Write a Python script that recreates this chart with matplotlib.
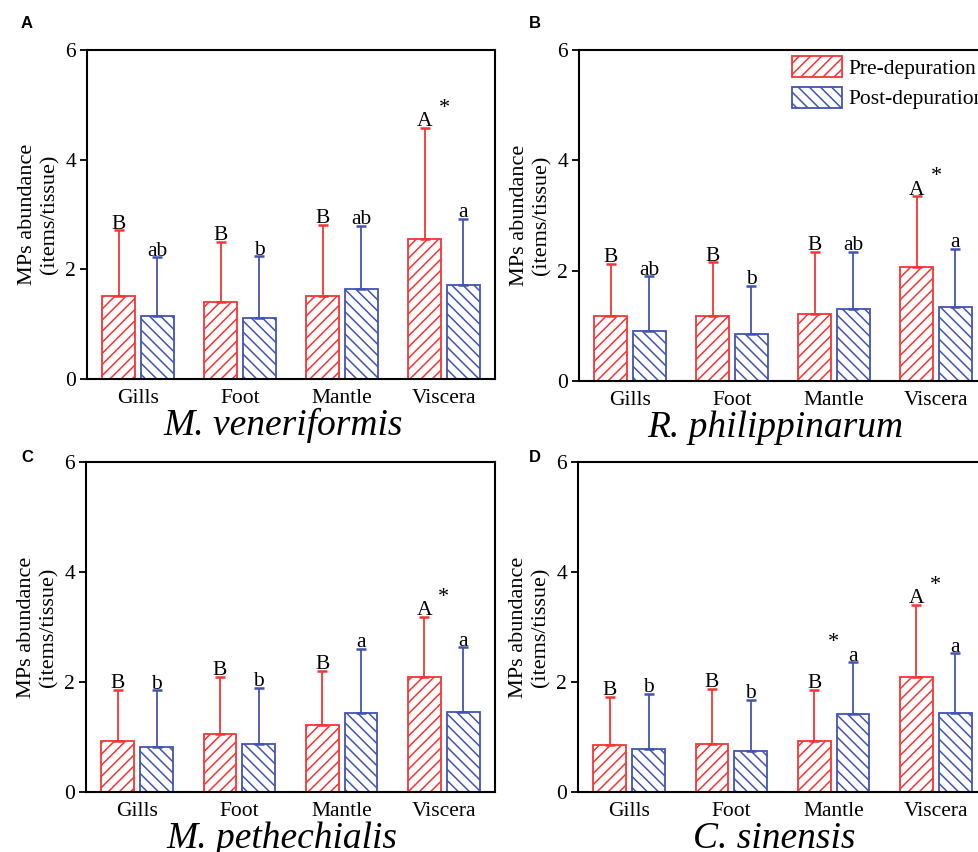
import matplotlib.pyplot as plt
import numpy as np

plt.rcParams['font.family'] = 'Liberation Serif'
plt.rcParams['hatch.linewidth'] = 1.1

tissues = ['Gills', 'Foot', 'Mantle', 'Viscera']
species = ['M. veneriformis', 'R. philippinarum', 'M. pethechialis', 'C. sinensis']
panel_tags = ['A', 'B', 'C', 'D']

# mean and SD, items/tissue
mv_pre = [1.51, 1.40, 1.51, 2.55]
mv_pre_sd = [1.20, 1.10, 1.30, 2.03]
mv_post = [1.15, 1.11, 1.64, 1.71]
mv_post_sd = [1.07, 1.13, 1.15, 1.21]

rp_pre = [1.18, 1.18, 1.22, 2.06]
rp_pre_sd = [0.94, 0.97, 1.12, 1.29]
rp_post = [0.91, 0.85, 1.31, 1.34]
rp_post_sd = [0.99, 0.88, 1.03, 1.05]

mp_pre = [0.93, 1.06, 1.22, 2.09]
mp_pre_sd = [0.93, 1.04, 0.98, 1.09]
mp_post = [0.81, 0.88, 1.43, 1.46]
mp_post_sd = [1.04, 1.01, 1.17, 1.17]

cs_pre = [0.85, 0.87, 0.93, 2.09]
cs_pre_sd = [0.88, 1.01, 0.93, 1.31]
cs_post = [0.78, 0.75, 1.41, 1.44]
cs_post_sd = [1.01, 0.93, 0.95, 1.08]

pre_letters = ['B', 'B', 'B', 'A']
mv_post_letters = ['ab', 'b', 'ab', 'a']
rp_post_letters = ['ab', 'b', 'ab', 'a']
mp_post_letters = ['b', 'b', 'a', 'a']
cs_post_letters = ['b', 'b', 'a', 'a']

# tissues with a significant pre/post difference
mv_stars = [3]
rp_stars = [3]
mp_stars = [3]
cs_stars = [2, 3]

panels = [
    (mv_pre, mv_pre_sd, mv_post, mv_post_sd, mv_post_letters, mv_stars),
    (rp_pre, rp_pre_sd, rp_post, rp_post_sd, rp_post_letters, rp_stars),
    (mp_pre, mp_pre_sd, mp_post, mp_post_sd, mp_post_letters, mp_stars),
    (cs_pre, cs_pre_sd, cs_post, cs_post_sd, cs_post_letters, cs_stars),
]

red = '#f53535'
blue = '#4254b2'

W, H = 979, 852
fig = plt.figure(figsize=(W / 100, H / 100), dpi=100)

# axes boxes in pixels: left, top, width, height
boxes = [(87, 50, 408, 329), (579, 50, 408, 331), (86, 462, 409, 330), (578, 462, 409, 330)]
tag_pos = [(21, 24), (529, 24), (21, 458), (529, 458)]

x = np.arange(len(tissues))
w = 0.32
off = 0.19

for i, (pre, pre_sd, post, post_sd, post_letters, stars) in enumerate(panels):
    l, t, bw, bh = boxes[i]
    ax = fig.add_axes([l / W, 1 - (t + bh) / H, bw / W, bh / H])

    pre = np.array(pre)
    post = np.array(post)
    pre_top = pre + np.array(pre_sd)
    post_top = post + np.array(post_sd)

    ax.bar(x - off, pre, w, yerr=[np.zeros(4), pre_sd], facecolor='white',
           edgecolor=red, hatch='///', linewidth=1.3, label='Pre-depuration',
           error_kw=dict(ecolor=red, elinewidth=1.3, capsize=3.5, capthick=1.8))
    ax.bar(x + off, post, w, yerr=[np.zeros(4), post_sd], facecolor='white',
           edgecolor=blue, hatch='\\\\\\', linewidth=1.3, label='Post-depuration',
           error_kw=dict(ecolor=blue, elinewidth=1.3, capsize=3.5, capthick=1.8))

    for j in range(len(tissues)):
        ax.text(x[j] - off, pre_top[j] + 0.03, pre_letters[j], ha='center',
                va='baseline', fontsize=15.5)
        ax.text(x[j] + off, post_top[j] + 0.03, post_letters[j], ha='center',
                va='baseline', fontsize=15.5)
    for j in stars:
        ax.text(x[j], max(pre_top[j], post_top[j]) + 0.27, '*', ha='center',
                va='baseline', fontsize=16)

    ax.set_xlim(-0.5, 3.5)
    ax.set_ylim(0, 6)
    ax.set_yticks([0, 2, 4, 6])
    ax.set_xticks(x)
    ax.set_xticklabels(tissues)
    ax.tick_params(axis='y', direction='out', length=5, width=1.3, labelsize=15.5, pad=3)
    ax.tick_params(axis='x', length=0, labelsize=15.5, pad=7)
    for s in ax.spines.values():
        s.set_linewidth(1.5)
    ax.set_ylabel('MPs abundance\n(items/tissue)', fontsize=16, linespacing=1.25,
                  labelpad=4)

    ax.text(0.48, -0.17, species[i], transform=ax.transAxes, ha='center',
            va='baseline', fontsize=27, style='italic')

    fig.text(tag_pos[i][0] / W, 1 - tag_pos[i][1] / H, panel_tags[i],
             family='Liberation Sans', weight='bold', fontsize=12,
             ha='left', va='center')

    if i == 1:
        fig.legend(*ax.get_legend_handles_labels(), loc='upper left',
                   bbox_to_anchor=(792 / W, 1 - 56 / H), frameon=False,
                   fontsize=15.5, handlelength=2.3, handleheight=1.15,
                   handletextpad=0.3, labelspacing=0.35, borderpad=0,
                   borderaxespad=0)

fig.savefig('out.png', dpi=100)
